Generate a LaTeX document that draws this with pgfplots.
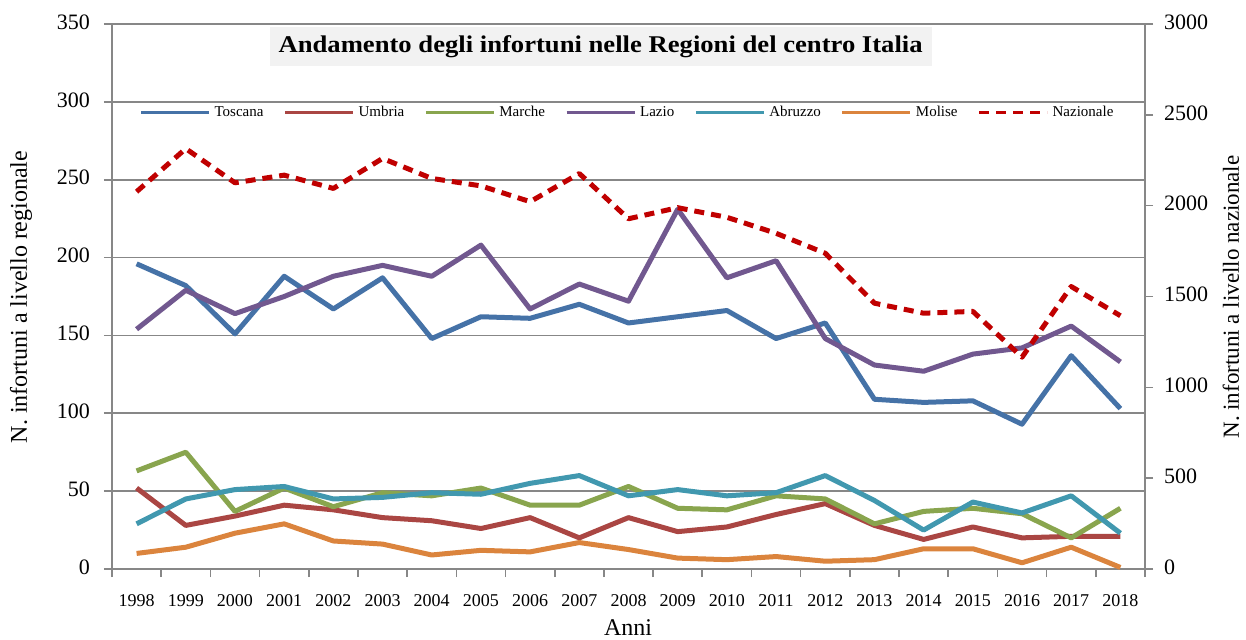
\documentclass[border=0pt]{standalone}
\usepackage{fontspec}
\setmainfont{Liberation Serif}
\usepackage{pgfplots}
\pgfplotsset{compat=1.18}
\definecolor{cTos}{HTML}{4572A7}
\definecolor{cUmb}{HTML}{AA4643}
\definecolor{cMar}{HTML}{89A54E}
\definecolor{cLaz}{HTML}{71588F}
\definecolor{cAbr}{HTML}{4198AF}
\definecolor{cMol}{HTML}{DB843D}
\definecolor{cNaz}{HTML}{C00000}
\definecolor{gridgray}{HTML}{878787}
\definecolor{titlegray}{HTML}{F2F2F2}
\pgfplotstableread{
x Tos Umb Mar Laz Abr Mol Naz
0 196 52 63 154 29 10 2077
1 182 28 75 179 45 14 2314
2 151 34 37 164 51 23 2126
3 188 41 52 175 53 29 2168
4 167 38 40 188 45 18 2095
5 187 33 49 195 46 16 2260
6 148 31 47 188 49 9 2150
7 162 26 52 208 48 12 2109
8 161 33 41 167 55 11 2022
9 170 20 41 183 60 17 2177
10 158 33 53 172 47 12.5 1928
11 162 24 39 231 51 7 1989
12 166 27 38 187 47 6 1936
13 148 35 47 198 49 8 1848
14 158 42 45 148 60 5 1738
15 109 28 29 131 44 6 1463
16 107 19 37 127 25 13 1408
17 108 27 39 138 43 13 1418
18 93 20 35.5 142 36 4 1166
19 137 21 20 156 47 14 1555
20 103 21 39 133 23 1 1394
}\data
\begin{document}
\begin{tikzpicture}
\pgfplotsset{
  every axis/.append style={
    scale only axis, width=516.5pt, height=272.5pt,
    at={(0,0)}, anchor=south west,
    xmin=-0.5, xmax=20.5,
    /pgf/number format/assume math mode=true,
    /pgf/number format/1000 sep={},
    tick align=outside,
    axis line style={draw=gridgray, line width=0.8pt},
    tick style={draw=gridgray, line width=0.8pt},
    major tick length=4pt,
    typeset ticklabels with strut,
    yticklabel style={font=\fontsize{11}{13}\selectfont},
    xticklabel style={font=\fontsize{9}{10}\selectfont},
  },
}
\path[use as bounding box] (-56pt,-35pt) rectangle (567pt,284.5pt);
\begin{axis}[
  ymin=0, ymax=350, ytick={0,50,...,350},
  ymajorgrids, grid style={draw=gridgray, line width=0.8pt},
  ytick pos=left, xtick pos=bottom,
  xtick={-0.5,0.5,...,20.5}, xticklabels={},
  extra x ticks={0,...,20},
  extra x tick labels={1998,1999,2000,2001,2002,2003,2004,2005,2006,2007,2008,2009,2010,2011,2012,2013,2014,2015,2016,2017,2018},
  extra x tick style={major tick length=0pt, xticklabel style={yshift=-8pt}},
  yticklabel style={xshift=-3.5pt},
  line join=round,
]
\addplot[cTos, line width=2.5pt] table[x=x,y=Tos]{\data};
\addplot[cUmb, line width=2.5pt] table[x=x,y=Umb]{\data};
\addplot[cMar, line width=2.5pt] table[x=x,y=Mar]{\data};
\addplot[cLaz, line width=2.5pt] table[x=x,y=Laz]{\data};
\addplot[cAbr, line width=2.5pt] table[x=x,y=Abr]{\data};
\addplot[cMol, line width=2.5pt] table[x=x,y=Mol]{\data};
\node[fill=titlegray, inner xsep=4pt, minimum width=331pt, minimum height=19.5pt, font=\bfseries\fontsize{12}{14}\selectfont] at (rel axis cs:0.473,0.9587) {\scalebox{1.11}[1]{Andamento degli infortuni nelle Regioni del centro Italia}};
\end{axis}
\begin{axis}[
  ymin=0, ymax=3000, ytick={0,500,...,3000},
  axis x line=none, axis y line*=right,
  yticklabel style={xshift=2pt},
  line join=round,
  legend columns=7,
  legend style={draw=none, fill=none, at={(0.5,0.837)}, anchor=center,
    font=\fontsize{7.5}{9}\selectfont,
    /tikz/every even column/.append style={column sep=8pt}},
  legend image code/.code={\draw[#1, line width=1.5pt] (0pt,0pt) -- (34pt,0pt);},
]
\addlegendimage{cTos}\addlegendentry{Toscana}
\addlegendimage{cUmb}\addlegendentry{Umbria}
\addlegendimage{cMar}\addlegendentry{Marche}
\addlegendimage{cLaz}\addlegendentry{Lazio}
\addlegendimage{cAbr}\addlegendentry{Abruzzo}
\addlegendimage{cMol}\addlegendentry{Molise}
\addplot[cNaz, line width=2.5pt, dash pattern=on 5pt off 3.5pt] table[x=x,y=Naz]{\data};
\addlegendentry{Nazionale}
\end{axis}
\node[rotate=90, font=\fontsize{12}{14}\selectfont] at (-45.5pt,136pt) {N. infortuni a livello regionale};
\node[rotate=90, font=\fontsize{11.5}{14}\selectfont] at (559.5pt,136pt) {N. infortuni a livello nazionale};
\node[font=\fontsize{12}{14}\selectfont] at (258pt,-29.5pt) {Anni};
\end{tikzpicture}
\end{document}
